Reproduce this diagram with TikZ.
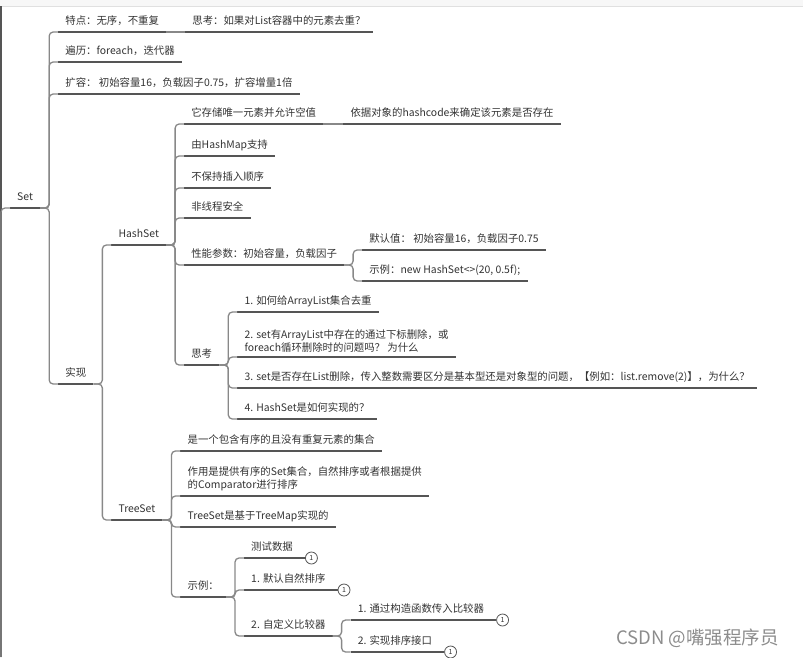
\documentclass[tikz,border=0pt]{standalone}
\usepackage{fontspec}
\usepackage{tikz}
\newfontfamily\cjk{Noto Sans CJK SC}
\usetikzlibrary{positioning}
\definecolor{txt}{HTML}{333333}
\definecolor{uln}{HTML}{555555}
\definecolor{lnk}{HTML}{888888}

\begin{document}
\begin{tikzpicture}[x=1pt, y=-1pt,
    uline/.style={draw=uln, line width=1.3pt},
    link/.style={draw=lnk, line width=1.3pt, rounded corners=4pt},
    topic/.style={anchor=south west, inner xsep=7pt, inner ysep=4.5pt, text height=8pt, text depth=2.5pt,
        align=left, text=txt, font=\cjk\fontsize{10.4}{13}\selectfont,
        append after command={(\tikzlastnode.south west) edge[uline] (\tikzlastnode.south east)}},
    twoline/.style={topic, text height=, text depth=},
    badge/.style={circle, draw=uln, fill=white, line width=0.8pt, minimum size=12pt, inner sep=0pt,
        text=txt, font=\cjk\fontsize{7}{7}\selectfont}
]
    \useasboundingbox (0,0) rectangle (803,657);
    \fill[black!3] (0,0) rectangle (803,6);
    \draw[black!12] (0,6) -- (803,6);

    \coordinate (top) at (1,6);
    \coordinate (bot) at (1,657);
    \draw[uline] (top) -- (bot);

    \node[topic] (set) at (10,208) {Set};
    \draw[link] (bot) |- (set.south west);

    % Set
    \coordinate (s1) at ([xshift=18pt]set.south east);
    \node[topic] (tedian) at (s1 |- 0,32) {特点：无序，不重复};
    \node[topic] (sikao) at ([xshift=19pt]tedian.south east) {思考：如果对List容器中的元素去重？};
    \node[topic] (bianli) at (s1 |- 0,62) {遍历：foreach，迭代器};
    \node[topic] (kuorong) at (s1 |- 0,94) {扩容： 初始容量16，负载因子0.75，扩容增量1倍};
    \node[topic] (shixian) at (s1 |- 0,384) {实现};
    \draw[link] (tedian.south east) -- (sikao.south west);
    \draw[link] (set.south east) -- ++(9,0) |- (tedian.south west);
    \draw[link] (set.south east) -- ++(9,0) |- (bianli.south west);
    \draw[link] (set.south east) -- ++(9,0) |- (kuorong.south west);
    \draw[link] (set.south east) -- ++(9,0) |- (shixian.south west);

    % 实现
    \coordinate (s2) at ([xshift=18pt]shixian.south east);
    \node[topic] (hashset) at (s2 |- 0,245) {HashSet};
    \node[topic] (treeset) at (s2 |- 0,520) {TreeSet};
    \draw[link] (shixian.south east) -- ++(9,0) |- (hashset.south west);
    \draw[link] (shixian.south east) -- ++(9,0) |- (treeset.south west);

    % HashSet
    \coordinate (s3) at ([xshift=18pt]hashset.south east);
    \node[topic] (hs1) at (s3 |- 0,124) {它存储唯一元素并允许空值};
    \node[topic] (hs1a) at ([xshift=20pt]hs1.south east) {依据对象的hashcode来确定该元素是否存在};
    \node[topic] (hs2) at (s3 |- 0,156) {由HashMap支持};
    \node[topic] (hs3) at (s3 |- 0,188) {不保持插入顺序};
    \node[topic] (hs4) at (s3 |- 0,218) {非线程安全};
    \node[topic] (hs5) at (s3 |- 0,265) {性能参数：初始容量，负载因子};
    \node[topic] (hs6) at (s3 |- 0,365) {思考};
    \draw[link] (hs1.south east) -- (hs1a.south west);
    \foreach \n in {hs1,hs2,hs3,hs4,hs5,hs6}
        \draw[link] (hashset.south east) -- ++(9,0) |- (\n.south west);

    \coordinate (s4) at ([xshift=18pt]hs5.south east);
    \node[topic] (hs5a) at (s4 |- 0,250) {默认值： 初始容量16，负载因子0.75};
    \node[topic] (hs5b) at (s4 |- 0,281) {示例：new HashSet<>(20, 0.5f);};
    \draw[link] (hs5.south east) -- ++(9,0) |- (hs5a.south west);
    \draw[link] (hs5.south east) -- ++(9,0) |- (hs5b.south west);

    \coordinate (s5) at ([xshift=18pt]hs6.south east);
    \node[topic] (q1) at (s5 |- 0,312) {1. 如何给ArrayList集合去重};
    \node[twoline] (q2) at (s5 |- 0,357) {2. set有ArrayList中存在的通过下标删除，或\\foreach循环删除时的问题吗？ 为什么};
    \node[topic] (q3) at (s5 |- 0,388) {3. set是否存在List删除，传入整数需要区分是基本型还是对象型的问题，【例如：list.remove(2)】，为什么？};
    \node[topic] (q4) at (s5 |- 0,419) {4. HashSet是如何实现的？};
    \foreach \n in {q1,q2,q3,q4}
        \draw[link] (hs6.south east) -- ++(9,0) |- (\n.south west);

    % TreeSet
    \coordinate (s6) at ([xshift=18pt]treeset.south east);
    \node[topic] (ts1) at (s6 |- 0,451) {是一个包含有序的且没有重复元素的集合};
    \node[twoline] (ts2) at (s6 |- 0,496) {作用是提供有序的Set集合，自然排序或者根据提供\\的Comparator进行排序};
    \node[topic] (ts3) at (s6 |- 0,527) {TreeSet是基于TreeMap实现的};
    \node[topic] (ts4) at (s6 |- 0,597) {示例：};
    \foreach \n in {ts1,ts2,ts3,ts4}
        \draw[link] (treeset.south east) -- ++(9,0) |- (\n.south west);

    \coordinate (s7) at ([xshift=18pt]ts4.south east);
    \node[topic] (ex1) at (s7 |- 0,558) {测试数据};
    \node[topic] (ex2) at (s7 |- 0,590) {1. 默认自然排序};
    \node[topic] (ex3) at (s7 |- 0,636) {2. 自定义比较器};
    \foreach \n in {ex1,ex2,ex3}
        \draw[link] (ts4.south east) -- ++(9,0) |- (\n.south west);

    \coordinate (s8) at ([xshift=18pt]ex3.south east);
    \node[topic] (ex3a) at (s8 |- 0,620) {1. 通过构造函数传入比较器};
    \node[topic] (ex3b) at (s8 |- 0,652) {2. 实现排序接口};
    \draw[link] (ex3.south east) -- ++(9,0) |- (ex3a.south west);
    \draw[link] (ex3.south east) -- ++(9,0) |- (ex3b.south west);

    \node[badge, right=5pt of ex1.south east] (b1) {1};
    \node[badge, right=5pt of ex2.south east] (b2) {1};
    \node[badge, right=5pt of ex3a.south east] (b3) {1};
    \node[badge, right=5pt of ex3b.south east] (b4) {1};
    \draw[uline] (ex1.south east) -- (b1.west);
    \draw[uline] (ex2.south east) -- (b2.west);
    \draw[uline] (ex3a.south east) -- (b3.west);
    \draw[uline] (ex3b.south east) -- (b4.west);

    \node[anchor=west, inner sep=0pt, text=black!45, font=\cjk\fontsize{18.5}{18.5}\selectfont] (wm) at (616,638) {CSDN @嘴强程序员};
\end{tikzpicture}
\end{document}
